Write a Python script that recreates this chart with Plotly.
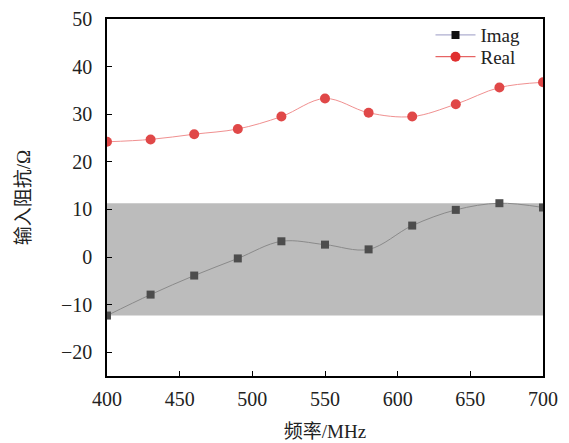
import plotly.graph_objects as go

freq = [400, 430, 460, 490, 520, 550, 580, 610, 640, 670, 700]
imag = [-12.3, -7.9, -3.9, -0.3, 3.3, 2.6, 1.6, 6.6, 9.9, 11.3, 10.4]
real = [24.2, 24.7, 25.8, 26.9, 29.5, 33.3, 30.3, 29.5, 32.1, 35.6, 36.7]
x_ticks = [400, 450, 500, 550, 600, 650, 700]
y_ticks = [-20, -10, 0, 10, 20, 30, 40, 50]

serif = "Liberation Serif, Times New Roman, serif"
fig = go.Figure()

fig.add_shape(type="rect", xref="x", yref="y", x0=freq[0], x1=freq[-1],
              y0=min(imag), y1=max(imag), fillcolor="#bcbcbc",
              line=dict(width=0), layer="below")

fig.add_trace(go.Scatter(x=freq, y=imag, name="Imag", mode="lines+markers", showlegend=False,
                         line=dict(color="#8a8a8a", width=1, shape="spline"),
                         marker=dict(symbol="square", size=8, color="#4d4d4d")))
fig.add_trace(go.Scatter(x=freq, y=real, name="Real", mode="lines+markers", showlegend=False,
                         line=dict(color="#f09090", width=1, shape="spline"),
                         marker=dict(symbol="circle", size=10, color="#e04848")))
# legend entries
fig.add_trace(go.Scatter(x=[None], y=[None], name="Imag", mode="lines+markers", legend="legend",
                         line=dict(color="#9a9ac4", width=1),
                         marker=dict(symbol="square", size=8, color="#111111")))
fig.add_trace(go.Scatter(x=[None], y=[None], name="Real", mode="lines+markers", legend="legend2",
                         line=dict(color="#e04040", width=1),
                         marker=dict(symbol="circle", size=10, color="#e03030")))

axis_common = dict(showline=True, linecolor="black", linewidth=1.5, mirror=True,
                   ticks="inside", ticklen=5, tickcolor="black", showgrid=False,
                   zeroline=False, automargin=False,
                   tickfont=dict(family=serif, size=20, color="#222"))

fig.update_xaxes(range=[400, 700], tickvals=x_ticks, ticklabelstandoff=4, **axis_common,
                 title=dict(text="<span style='font-family:Noto Sans CJK SC'>频率</span>/MHz",
                            font=dict(family=serif, size=19, color="#222"), standoff=18))
fig.update_yaxes(range=[-25, 50], tickvals=y_ticks, ticklabelstandoff=9,
                 ticktext=[("\u2212" + str(-v)) if v < 0 else str(v) for v in y_ticks],
                 **axis_common,
                 title=dict(text="<span style='font-family:Noto Sans CJK SC'>输入阻抗</span>/Ω",
                            font=dict(family=serif, size=19, color="#222"), standoff=25))

leg_common = dict(xanchor="left", yanchor="middle", bgcolor="rgba(0,0,0,0)",
                  font=dict(family=serif, size=19, color="#222"), itemwidth=40)
fig.update_layout(
    width=569, height=443,
    margin=dict(l=107, r=26, t=19, b=67),
    plot_bgcolor="white", paper_bgcolor="white",
    legend=dict(x=0.742, y=0.955, **leg_common),
    legend2=dict(x=0.742, y=0.894, **leg_common),
    showlegend=True,
)

fig.write_html("out.html")
